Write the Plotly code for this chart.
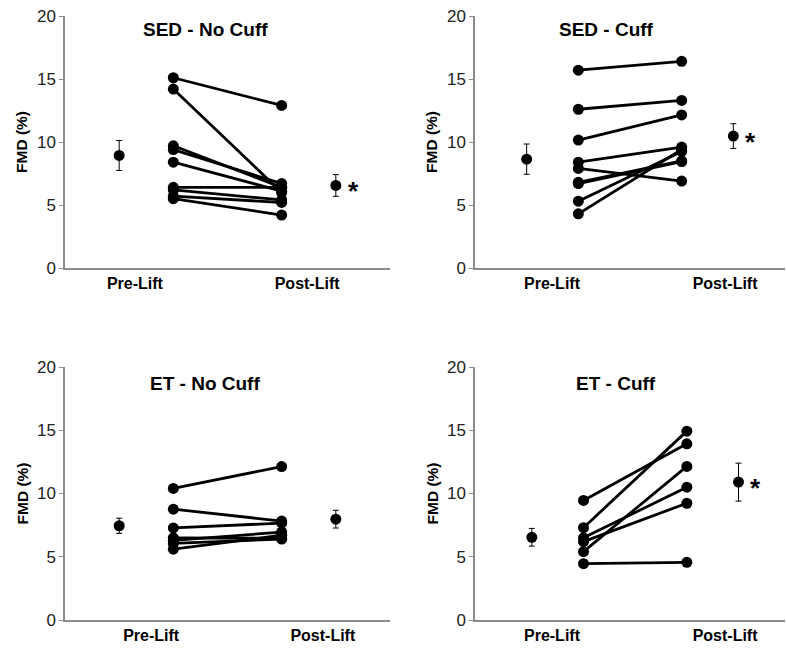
import plotly.graph_objects as go

# ---- data ----
panel_titles = ["SED - No Cuff", "SED - Cuff", "ET - No Cuff", "ET - Cuff"]
tick_labels = ["Pre-Lift", "Post-Lift"]

sed_nocuff_pre = [15.1, 14.2, 9.7, 9.4, 8.4, 6.4, 6.2, 5.7, 5.5]
sed_nocuff_post = [12.9, 6.0, 6.4, 6.7, 6.1, 6.4, 5.4, 5.2, 4.2]
sed_nocuff_mean = [8.93, 6.55]
sed_nocuff_err = [1.19, 0.86]

sed_cuff_pre = [15.7, 12.6, 10.15, 8.4, 7.9, 6.8, 6.7, 5.3, 4.3]
sed_cuff_post = [16.4, 13.3, 12.15, 9.6, 6.9, 8.5, 8.45, 9.25, 9.4]
sed_cuff_mean = [8.64, 10.47]
sed_cuff_err = [1.2, 0.98]

et_nocuff_pre = [10.4, 8.76, 7.28, 6.5, 6.3, 6.05, 5.6]
et_nocuff_post = [12.13, 7.82, 7.66, 6.45, 6.95, 6.4, 6.7]
et_nocuff_mean = [7.45, 7.97]
et_nocuff_err = [0.6, 0.7]

et_cuff_pre = [9.45, 7.3, 6.5, 6.2, 5.4, 4.45]
et_cuff_post = [13.93, 14.93, 10.5, 9.23, 12.14, 4.56]
et_cuff_mean = [6.54, 10.9]
et_cuff_err = [0.7, 1.5]

significant = [True, True, False, True]

# positions: mean-pre, individual-pre, individual-post, mean-post
x_mean = [1, 5]
x_ind = [2, 4]

panels = [
    (sed_nocuff_pre, sed_nocuff_post, sed_nocuff_mean, sed_nocuff_err),
    (sed_cuff_pre, sed_cuff_post, sed_cuff_mean, sed_cuff_err),
    (et_nocuff_pre, et_nocuff_post, et_nocuff_mean, et_nocuff_err),
    (et_cuff_pre, et_cuff_post, et_cuff_mean, et_cuff_err),
]

W, H = 786, 648
# pixel layout of each panel: (x0, x1, ytop, ybottom)
pix = [(65, 390, 16, 268), (475, 785, 16, 268), (65, 390, 367, 620), (475, 785, 367, 620)]
xranges = [[0, 6], [0, 6], [0, 6], [-0.1, 5.9]]
tickpos = [[1.29, 4.47], [1.49, 4.84], [1.59, 4.76], [1.39, 4.74]]
title_pos = [(205, 30), (606, 30), (205, 383), (616, 383)]

fig = go.Figure()
axis_grey = "#8c8c8c"
font_fam = "Liberation Sans, Arial, sans-serif"

for i, (pre, post, mean, err) in enumerate(panels):
    xa = "x" if i == 0 else f"x{i+1}"
    ya = "y" if i == 0 else f"y{i+1}"
    for a, b in zip(pre, post):
        fig.add_trace(go.Scatter(
            x=x_ind, y=[a, b], mode="lines+markers",
            line=dict(color="black", width=2.8),
            marker=dict(color="black", size=11),
            xaxis=xa, yaxis=ya, showlegend=False, hoverinfo="skip"))
    fig.add_trace(go.Scatter(
        x=x_mean, y=mean, mode="markers",
        marker=dict(color="black", size=11),
        error_y=dict(type="data", array=err, color="black", thickness=1, width=3),
        xaxis=xa, yaxis=ya, showlegend=False, hoverinfo="skip"))

    x0, x1, yt, yb = pix[i]
    kx = "xaxis" if i == 0 else f"xaxis{i+1}"
    ky = "yaxis" if i == 0 else f"yaxis{i+1}"
    fig.layout[kx] = dict(
        domain=[x0 / W, x1 / W], range=xranges[i], anchor=ya, automargin=False,
        showgrid=False, zeroline=False, showline=True, linecolor=axis_grey, linewidth=1.5,
        tickmode="array", tickvals=tickpos[i],
        ticktext=[f"<b>{t}</b>" for t in tick_labels], ticks="",
        tickfont=dict(size=16, color="black", family=font_fam))
    fig.layout[ky] = dict(
        domain=[1 - yb / H, 1 - yt / H], range=[0, 20], anchor=xa, automargin=False,
        showgrid=False, zeroline=False, showline=True, linecolor=axis_grey, linewidth=1.5,
        tickmode="array", tickvals=[0, 5, 10, 15, 20], ticks="outside", ticklen=4,
        tickcolor=axis_grey, tickfont=dict(size=17, color="#222222", family=font_fam))

    tx, ty = title_pos[i]
    fig.add_annotation(x=tx / W, y=1 - ty / H, xref="paper", yref="paper",
                       xanchor="center", yanchor="middle",
                       text=f"<b>{panel_titles[i]}</b>", showarrow=False,
                       font=dict(size=19, color="black", family=font_fam))
    fig.add_annotation(x=(x0 - 43) / W, y=1 - (yt + yb) / 2 / H, xref="paper", yref="paper",
                       xanchor="center", yanchor="middle",
                       text="<b>FMD (%)</b>", textangle=-90, showarrow=False,
                       font=dict(size=15.5, color="black", family=font_fam))
    if significant[i]:
        fig.add_annotation(x=x_mean[1] + 0.33, y=mean[1], xref=xa, yref=ya,
                           xanchor="center", yanchor="middle",
                           text="<b>*</b>", showarrow=False, yshift=-6,
                           font=dict(size=26, color="black", family=font_fam))

fig.update_layout(width=W, height=H, margin=dict(l=0, r=0, t=0, b=0, autoexpand=False),
                  plot_bgcolor="white", paper_bgcolor="white")
fig.write_html("out.html", config={"displayModeBar": False},
               post_script="document.body.style.margin='0';document.body.style.overflow='hidden';")
